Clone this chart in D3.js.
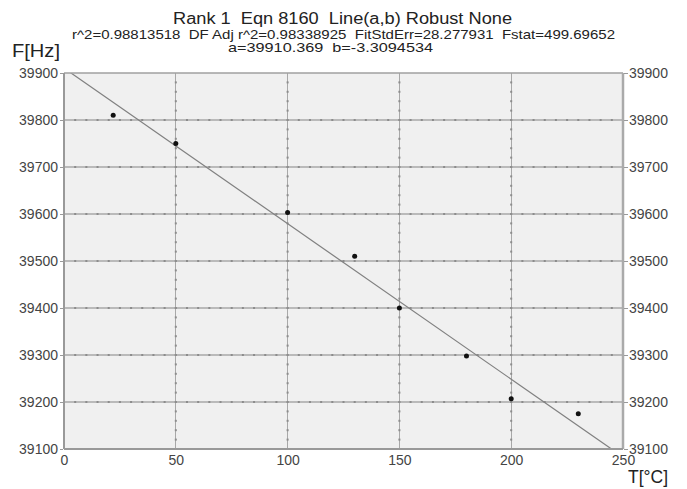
<!DOCTYPE html>
<html><head><meta charset="utf-8">
<script src="https://cdnjs.cloudflare.com/ajax/libs/d3/7.8.5/d3.min.js"></script>
<style>body{margin:0;background:#fff}svg{display:block}text{font-family:"Liberation Sans",Arial,sans-serif;white-space:pre}</style>
</head><body>
<script>
const temps = [22, 50, 100, 130, 150, 180, 200, 230];
const freqs = [39810, 39750, 39603, 39510, 39400, 39298, 39207, 39175];
const xTicks = [0, 50, 100, 150, 200, 250];
const yTicks = [39100, 39200, 39300, 39400, 39500, 39600, 39700, 39800, 39900];
const fitA = 39910.369, fitB = -3.3094534;
const titleLines = ["Rank 1  Eqn 8160  Line(a,b) Robust None",
  "r^2=0.98813518  DF Adj r^2=0.98338925  FitStdErr=28.277931  Fstat=499.69652",
  "a=39910.369  b=-3.3094534"];

const W = 687, H = 489;
const L = 64, R = 623, T = 73, B = 449;
const svg = d3.select("body").append("svg").attr("width", W).attr("height", H);
const x = d3.scaleLinear().domain([0, 250]).range([L, R]);
const y = d3.scaleLinear().domain([39100, 39900]).range([B, T]);

svg.append("rect").attr("x", L).attr("y", T).attr("width", R - L).attr("height", B - T).attr("fill", "#f0f0f0");
svg.append("clipPath").attr("id", "c").append("rect").attr("x", L).attr("y", T).attr("width", R - L).attr("height", B - T);

// grid
const g = svg.append("g");
xTicks.slice(1, -1).forEach(v => {
  g.append("line").attr("x1", x(v)).attr("x2", x(v)).attr("y1", T).attr("y2", B).attr("stroke", "#a8a8a8").attr("stroke-width", 1).attr("shape-rendering", "crispEdges");
  d3.range(39120, 39900, 20).forEach(m => {
    g.append("rect").attr("x", x(v) - 1).attr("y", y(m) - 1).attr("width", 2).attr("height", 2).attr("fill", "#8c8c8c");
  });
});
yTicks.slice(1, -1).forEach(v => {
  g.append("line").attr("x1", L).attr("x2", R).attr("y1", y(v)).attr("y2", y(v)).attr("stroke", "#a8a8a8").attr("stroke-width", 1.3);
  d3.range(5, 250, 5).forEach(m => {
    g.append("rect").attr("x", x(m) - 1).attr("y", y(v) - 1).attr("width", 2).attr("height", 2).attr("fill", "#8c8c8c");
  });
});

// fit line
svg.append("g").attr("clip-path", "url(#c)").append("path")
  .datum([0, 250])
  .attr("d", d3.line().x(d => x(d)).y(d => y(fitA + fitB * d)))
  .attr("stroke", "#808080").attr("stroke-width", 1.2).attr("fill", "none");

// frame
svg.append("line").attr("x1", L).attr("x2", R).attr("y1", T).attr("y2", T).attr("stroke", "#a0a0a0").attr("stroke-width", 1.5);
svg.append("line").attr("x1", L).attr("x2", L).attr("y1", T).attr("y2", B).attr("stroke", "#999").attr("stroke-width", 2);
svg.append("line").attr("x1", R).attr("x2", R).attr("y1", T).attr("y2", B).attr("stroke", "#aaa").attr("stroke-width", 2.5);
svg.append("line").attr("x1", L).attr("x2", R).attr("y1", B).attr("y2", B).attr("stroke", "#999").attr("stroke-width", 2);

// points
svg.append("g").selectAll("circle").data(temps).join("circle")
  .attr("cx", d => x(d)).attr("cy", (d, i) => y(freqs[i])).attr("r", 2.5).attr("fill", "#111");

// axes
const axL = d3.axisLeft(y).tickValues(yTicks).tickSize(3).tickPadding(2).tickFormat(d3.format("d"));
const axR = d3.axisRight(y).tickValues(yTicks).tickSize(4).tickPadding(1).tickFormat(d3.format("d"));
const axB = d3.axisBottom(x).tickValues(xTicks).tickSize(0).tickPadding(6).tickFormat(d3.format("d"));
function style(sel) {
  sel.select(".domain").remove();
  sel.selectAll("line").attr("stroke", "#999");
  sel.selectAll("text").attr("fill", "#444").style("font-size", "14px").style("font-family", "'Liberation Sans',Arial,sans-serif");
}
svg.append("g").attr("transform", `translate(${L - 1},0)`).call(axL).call(style);
svg.append("g").attr("transform", `translate(${R + 1},0)`).call(axR).call(style);
svg.append("g").attr("transform", `translate(0,${B})`).call(axB).call(style);

// titles
const tf = [16, 13, 13], ty = [23.5, 38.5, 52], tx = [173, 72, 228], tw = [339, 543, 205];
titleLines.forEach((t, i) => {
  svg.append("text").attr("x", tx[i]).attr("y", ty[i])
    .attr("textLength", tw[i]).attr("lengthAdjust", "spacingAndGlyphs")
    .attr("fill", "#222").style("font-size", tf[i] + "px").text(t);
});
svg.append("text").attr("x", 12).attr("y", 57).attr("textLength", 48).attr("lengthAdjust", "spacingAndGlyphs")
  .attr("fill", "#222").style("font-size", "18px").text("F[Hz]");
svg.append("text").attr("x", 628).attr("y", 483).attr("textLength", 40).attr("lengthAdjust", "spacingAndGlyphs")
  .attr("fill", "#222").style("font-size", "18px").text("T[°C]");
</script>
</body></html>
